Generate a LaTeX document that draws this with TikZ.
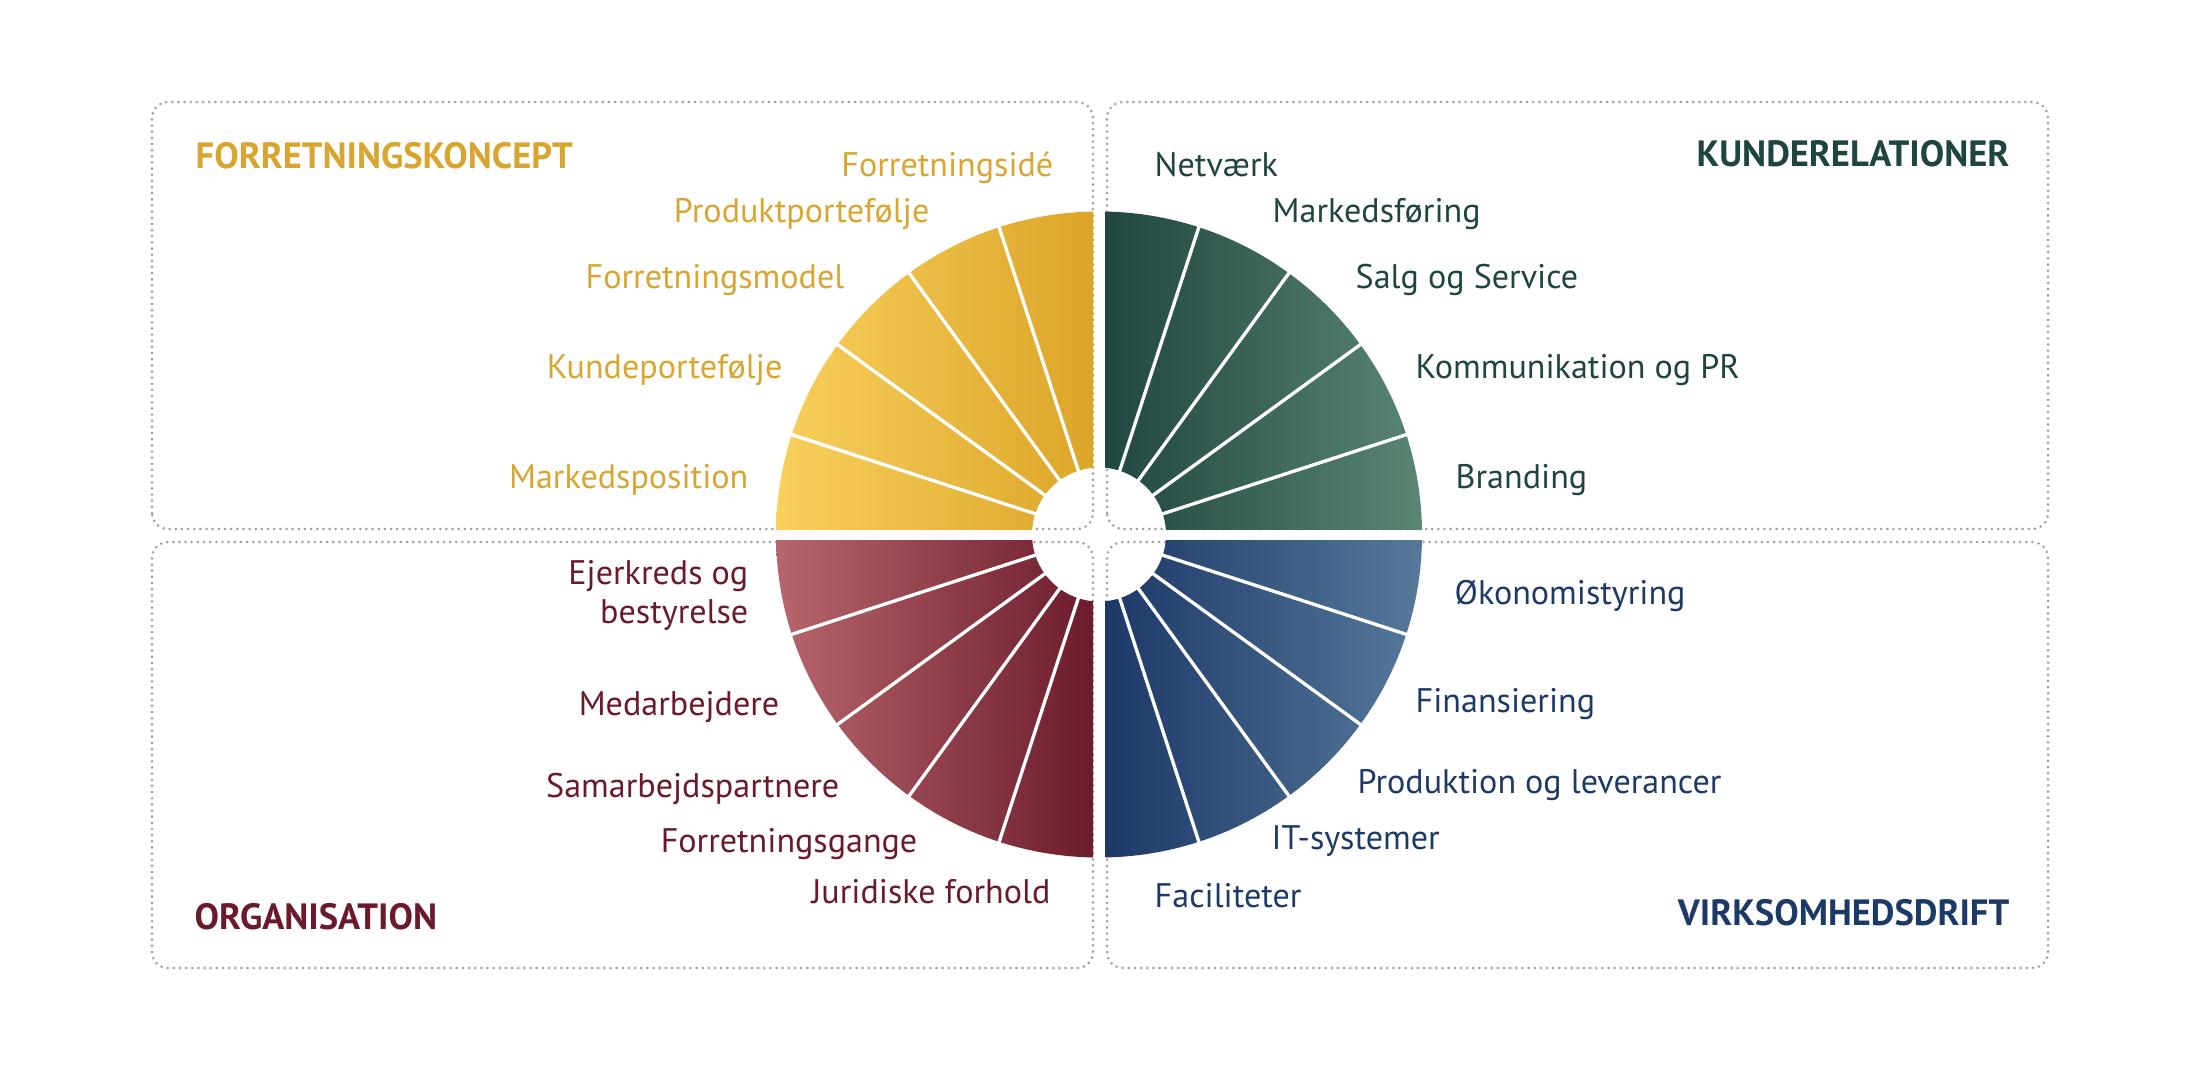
\documentclass[tikz,border=0pt]{standalone}
\usepackage{fontspec}
\setmainfont{PT Sans}
\usepackage{xcolor}
\usepackage{tikz}
\definecolor{FKGoldA}{HTML}{F8D05C}
\definecolor{FKGoldB}{HTML}{DBA427}
\definecolor{FKText}{HTML}{D8A630}
\definecolor{KRGreenA}{HTML}{1F4540}
\definecolor{KRGreenB}{HTML}{5A8673}
\definecolor{ORRedA}{HTML}{B8666D}
\definecolor{ORRedB}{HTML}{6A1A2B}
\definecolor{VDBlueA}{HTML}{1B3766}
\definecolor{VDBlueB}{HTML}{56799B}
\definecolor{VDText}{HTML}{1D3A66}
\definecolor{BoxDots}{HTML}{A2A2A2}

\tikzset{
  areabox/.style={draw=BoxDots,line width=0.85pt,line cap=round,dash pattern=on 0pt off 1.75pt,rounded corners=0.16cm},
  spoke/.style={draw=white,line width=0.95pt},
  itemtext/.style={inner sep=0pt,font=\fontsize{9.7}{11}\selectfont},
  headtext/.style={inner sep=0pt,font=\fontsize{10.4}{12}\selectfont\bfseries}
}

\begin{document}
\begin{tikzpicture}[x=1cm,y=1cm]
\path[use as bounding box] (0,0) rectangle (22,10.70);
\coordinate (hub) at (10.99,5.355);

% dotted area frames
\draw[areabox] (1.52,5.41) rectangle (10.93,9.68);
\draw[areabox] (11.07,5.41) rectangle (20.48,9.68);
\draw[areabox] (1.52,1.02) rectangle (10.93,5.28);
\draw[areabox] (11.07,1.02) rectangle (20.48,5.28);

% wheel quarters
\begin{scope}
\clip (7.50,5.41) rectangle (10.93,8.70);
\shade[left color=FKGoldA,right color=FKGoldB] (hub) ++(180:3.23) arc[start angle=180,end angle=90,radius=3.23] -- ++(0,-2.56) arc[start angle=90,end angle=180,radius=0.67] -- cycle;
\end{scope}
\begin{scope}
\clip (11.05,5.41) rectangle (14.30,8.70);
\shade[left color=KRGreenA,right color=KRGreenB] (hub) ++(90:3.23) arc[start angle=90,end angle=0,radius=3.23] -- ++(-2.56,0) arc[start angle=0,end angle=90,radius=0.67] -- cycle;
\end{scope}
\begin{scope}
\clip (7.50,2.00) rectangle (10.93,5.30);
\shade[left color=ORRedA,right color=ORRedB] (hub) ++(180:3.23) arc[start angle=180,end angle=270,radius=3.23] -- ++(0,2.56) arc[start angle=270,end angle=180,radius=0.67] -- cycle;
\end{scope}
\begin{scope}
\clip (11.05,2.00) rectangle (14.30,5.30);
\shade[left color=VDBlueA,right color=VDBlueB] (hub) ++(270:3.23) arc[start angle=270,end angle=360,radius=3.23] -- ++(-2.56,0) arc[start angle=0,end angle=-90,radius=0.67] -- cycle;
\end{scope}

% spokes
\draw[spoke] (hub) ++(18:0.6) -- ++(18:2.7);
\draw[spoke] (hub) ++(36:0.6) -- ++(36:2.7);
\draw[spoke] (hub) ++(54:0.6) -- ++(54:2.7);
\draw[spoke] (hub) ++(72:0.6) -- ++(72:2.7);
\draw[spoke] (hub) ++(108:0.6) -- ++(108:2.7);
\draw[spoke] (hub) ++(126:0.6) -- ++(126:2.7);
\draw[spoke] (hub) ++(144:0.6) -- ++(144:2.7);
\draw[spoke] (hub) ++(162:0.6) -- ++(162:2.7);
\draw[spoke] (hub) ++(198:0.6) -- ++(198:2.7);
\draw[spoke] (hub) ++(216:0.6) -- ++(216:2.7);
\draw[spoke] (hub) ++(234:0.6) -- ++(234:2.7);
\draw[spoke] (hub) ++(252:0.6) -- ++(252:2.7);
\draw[spoke] (hub) ++(288:0.6) -- ++(288:2.7);
\draw[spoke] (hub) ++(306:0.6) -- ++(306:2.7);
\draw[spoke] (hub) ++(324:0.6) -- ++(324:2.7);
\draw[spoke] (hub) ++(342:0.6) -- ++(342:2.7);

% Forretningskoncept
\node[headtext,text=FKText,anchor=base west] (fkhead) at (1.95,9.02) {FORRETNINGSKONCEPT};
\node[itemtext,text=FKText,anchor=base east] (fkidea) at (10.54,8.93) {Forretningsidé};
\node[itemtext,text=FKText,anchor=base east] (fkprod) at (9.30,8.48) {Produktportefølje};
\node[itemtext,text=FKText,anchor=base east] (fkmodel) at (8.45,7.82) {Forretningsmodel};
\node[itemtext,text=FKText,anchor=base east] (fkkunde) at (7.83,6.92) {Kundeportefølje};
\node[itemtext,text=FKText,anchor=base east] (fkmarked) at (7.49,5.82) {Markedsposition};

% Kunderelationer
\node[headtext,text=KRGreenA,anchor=base east] (krhead) at (20.10,9.03) {KUNDERELATIONER};
\node[itemtext,text=KRGreenA,anchor=base west] (krnet) at (11.54,8.93) {Netværk};
\node[itemtext,text=KRGreenA,anchor=base west] (krmarked) at (12.72,8.48) {Markedsføring};
\node[itemtext,text=KRGreenA,anchor=base west] (krsalg) at (13.55,7.82) {Salg og Service};
\node[itemtext,text=KRGreenA,anchor=base west] (krkom) at (14.15,6.92) {Kommunikation og PR};
\node[itemtext,text=KRGreenA,anchor=base west] (krbrand) at (14.55,5.82) {Branding};

% Organisation
\node[headtext,text=ORRedB,anchor=base west] (orhead) at (1.94,1.41) {ORGANISATION};
\node[itemtext,text=ORRedB,anchor=east,align=right] (orejer) at (7.49,4.745) {Ejerkreds og\\bestyrelse};
\node[itemtext,text=ORRedB,anchor=base east] (ormed) at (7.80,3.55) {Medarbejdere};
\node[itemtext,text=ORRedB,anchor=base east] (orsam) at (8.40,2.73) {Samarbejdspartnere};
\node[itemtext,text=ORRedB,anchor=base east] (organg) at (9.18,2.18) {Forretningsgange};
\node[itemtext,text=ORRedB,anchor=base east] (orjur) at (10.51,1.67) {Juridiske forhold};

% Virksomhedsdrift
\node[headtext,text=VDText,anchor=base east] (vdhead) at (20.10,1.45) {VIRKSOMHEDSDRIFT};
\node[itemtext,text=VDText,anchor=base west] (vdoko) at (14.54,4.66) {Økonomistyring};
\node[itemtext,text=VDText,anchor=base west] (vdfin) at (14.15,3.58) {Finansiering};
\node[itemtext,text=VDText,anchor=base west] (vdprod) at (13.57,2.77) {Produktion og leverancer};
\node[itemtext,text=VDText,anchor=base west] (vdit) at (12.71,2.21) {IT-systemer};
\node[itemtext,text=VDText,anchor=base west] (vdfac) at (11.54,1.63) {Faciliteter};
\end{tikzpicture}
\end{document}
